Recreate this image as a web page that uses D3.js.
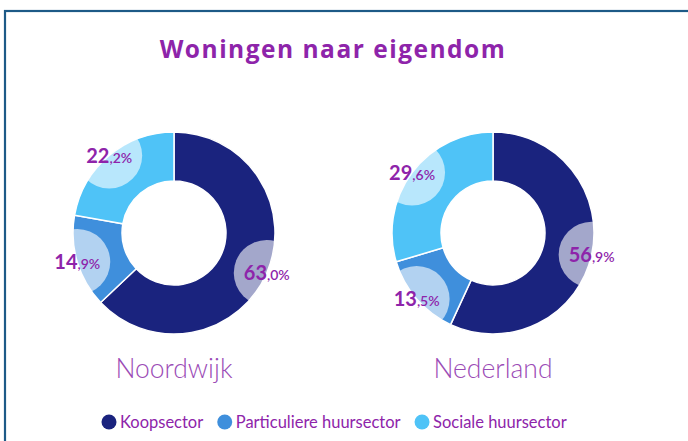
<!DOCTYPE html>
<html>
<head>
<meta charset="utf-8">
<script src="https://cdn.jsdelivr.net/npm/d3@7"></script>
<style>
  body { margin: 0; background: #fff; }
  svg { display: block; }
</style>
</head>
<body>
<div id="chart"></div>
<script>
var svgWidth = 688;
var svgHeight = 441;

// data
var categories = ["Koopsector", "Particuliere huursector", "Sociale huursector"];
var regions = ["Noordwijk", "Nederland"];
var noordwijkValues = [63.0, 14.9, 22.2];
var nederlandValues = [56.9, 13.5, 29.6];
var seriesValues = [noordwijkValues, nederlandValues];

var colors = ["#1a237e", "#3f8fdc", "#4fc3f7"];
var purple = "#8e24aa";

var svg = d3.select("#chart").append("svg")
    .attr("width", svgWidth)
    .attr("height", svgHeight);

// frame
svg.append("rect")
  .attr("x", 5)
  .attr("y", 11)
  .attr("width", 800)
  .attr("height", 600)
  .attr("fill", "none")
  .attr("stroke", "#1d5a87")
  .attr("stroke-width", 2.2);

svg.append("text")
  .attr("x", 333)
  .attr("y", 58)
  .attr("text-anchor", "middle")
  .attr("fill", purple)
  .style("font-family", "'Open Sans', sans-serif")
  .style("font-weight", 700)
  .style("font-size", "24.5px")
  .style("letter-spacing", "1.5px")
  .text("Woningen naar eigendom");

var xScale = d3.scalePoint()
  .domain(regions)
  .range([174, 493]);

var outerR = 101, innerR = 52, bubbleR = 33;

var pie = d3.pie().sort(null).value(function(d) { return d; });
var arc = d3.arc().innerRadius(innerR).outerRadius(outerR);
var ring = d3.arc().innerRadius(innerR).outerRadius(outerR).startAngle(0).endAngle(2 * Math.PI);

regions.forEach(function(region, i) {
  var g = svg.append("g")
    .attr("transform", `translate(${xScale(region)}, 233)`);

  var arcs = pie(seriesValues[i]);

  g.selectAll(".slice")
    .data(arcs)
    .enter()
    .append("path")
      .attr("class", "slice")
      .attr("d", arc)
      .attr("fill", function(d, j) { return colors[j]; })
      .attr("stroke", "#fff")
      .attr("stroke-width", 1.5);

  var clipId = "ring" + i;
  g.append("clipPath")
    .attr("id", clipId)
    .append("path")
      .attr("d", ring());

  function edgePoint(d) {
    var a = (d.startAngle + d.endAngle) / 2;
    return [outerR * Math.sin(a), -outerR * Math.cos(a)];
  }

  g.selectAll(".bubble")
    .data(arcs)
    .enter()
    .append("circle")
      .attr("class", "bubble")
      .attr("clip-path", `url(#${clipId})`)
      .attr("cx", function(d) { return edgePoint(d)[0]; })
      .attr("cy", function(d) { return edgePoint(d)[1]; })
      .attr("r", bubbleR)
      .attr("fill", "#fff")
      .attr("fill-opacity", 0.6);

  var labels = g.selectAll(".lbl")
    .data(arcs)
    .enter()
    .append("text")
      .attr("class", "lbl")
      .attr("x", function(d) { return edgePoint(d)[0]; })
      .attr("y", function(d) { return edgePoint(d)[1] + 7; })
      .attr("text-anchor", "middle")
      .attr("fill", purple)
      .style("font-family", "Lato, sans-serif")
      .style("font-weight", 700);

  labels.append("tspan")
    .style("font-size", "20px")
    .text(function(d) { return Math.floor(d.data); });
  labels.append("tspan")
    .style("font-size", "14px")
    .style("font-weight", 600)
    .text(function(d) { return "," + Math.round((d.data % 1) * 10) + "%"; });

  svg.append("text")
    .attr("x", xScale(region))
    .attr("y", 378)
    .attr("text-anchor", "middle")
    .attr("fill", "#9b4bb6")
    .style("font-family", "Lato, sans-serif")
    .style("font-weight", 300)
    .style("font-size", "26.5px")
    .text(region);
});

// legend
var legend = svg.append("g").attr("transform", "translate(0, 422)");
var lx = 101.5;
categories.forEach(function(c, i) {
  var item = legend.append("g").attr("transform", `translate(${lx}, 0)`);
  item.append("circle")
    .attr("cx", 7.5)
    .attr("cy", 0)
    .attr("r", 7.5)
    .attr("fill", colors[i]);
  var t = item.append("text")
    .attr("x", 18.5)
    .attr("y", 5.5)
    .attr("fill", purple)
    .style("font-family", "Lato, sans-serif")
    .style("font-size", "16.5px")
    .text(c);
  lx += 18.5 + t.node().getComputedTextLength() + 14;
});
</script>
</body>
</html>
